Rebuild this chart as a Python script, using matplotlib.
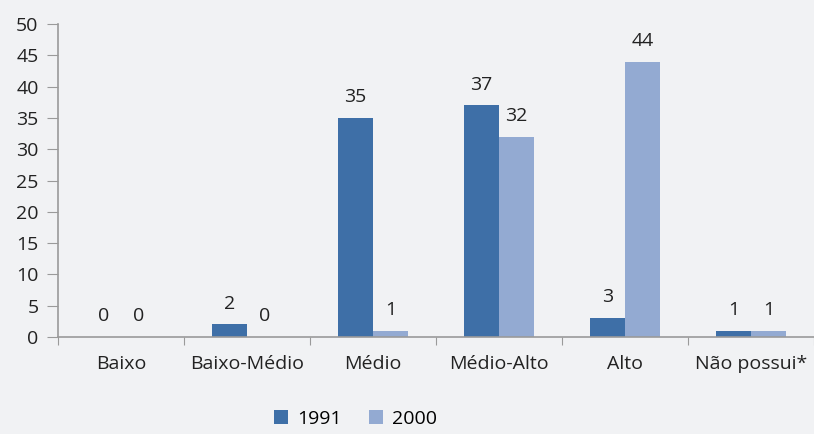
import matplotlib.pyplot as plt
import numpy as np

categories = ['Baixo', 'Baixo-Médio', 'Médio', 'Médio-Alto', 'Alto', 'Não possui*']
series_names = ['1991', '2000']
values_1991 = [0, 2, 35, 37, 3, 1]
values_2000 = [0, 0, 1, 32, 44, 1]
y_ticks = [0, 5, 10, 15, 20, 25, 30, 35, 40, 45, 50]

plt.rcParams['font.family'] = ['Open Sans', 'DejaVu Sans']

bg = '#f1f2f4'
col_91 = '#3e6fa7'
col_00 = '#93aad2'
grey = '#9a9a9a'
txt = '#222222'
fs = 14

fig = plt.figure(figsize=(8.14, 4.34), dpi=100, facecolor=bg)
ax = fig.add_axes([58 / 814, 97 / 434, 756 / 814, 313 / 434], facecolor=bg)

x = np.arange(len(categories))
w = 0.28
b1 = ax.bar(x - w / 2, values_1991, w, color=col_91, label=series_names[0])
b2 = ax.bar(x + w / 2, values_2000, w, color=col_00, label=series_names[1])

for bars, vals in ((b1, values_1991), (b2, values_2000)):
    for rect, v in zip(bars, vals):
        ax.annotate(str(v), (rect.get_x() + rect.get_width() / 2, v),
                    xytext=(0, 15), textcoords='offset points',
                    ha='center', va='center', fontsize=fs, color=txt)

ax.set_xlim(-0.5, len(categories) - 0.5)
ax.set_ylim(0, 50)
ax.set_yticks(y_ticks)
ax.set_yticklabels([str(t) for t in y_ticks], fontsize=fs, color=txt)

# category labels between boundary ticks
ax.set_xticks(np.arange(len(categories) + 1) - 0.5)
ax.set_xticklabels([])
ax.set_xticks(x, minor=True)
ax.set_xticklabels(categories, minor=True, fontsize=fs, color=txt)
ax.tick_params(axis='x', which='minor', length=0, pad=13)
ax.tick_params(axis='x', which='major', length=6, color=grey, direction='out')
ax.tick_params(axis='y', length=8, color=grey, direction='out', pad=6)

for s in ('top', 'right'):
    ax.spines[s].set_visible(False)
for s in ('left', 'bottom'):
    ax.spines[s].set_color(grey)
    ax.spines[s].set_linewidth(1.2)

fig.legend(handles=[b1, b2], loc='center', bbox_to_anchor=(0.437, 0.035), ncol=2,
           frameon=False, fontsize=fs, handlelength=0.7, handleheight=0.7,
           handletextpad=0.5, columnspacing=1.4, borderaxespad=0, borderpad=0)

fig.savefig('out.png', facecolor=bg)
